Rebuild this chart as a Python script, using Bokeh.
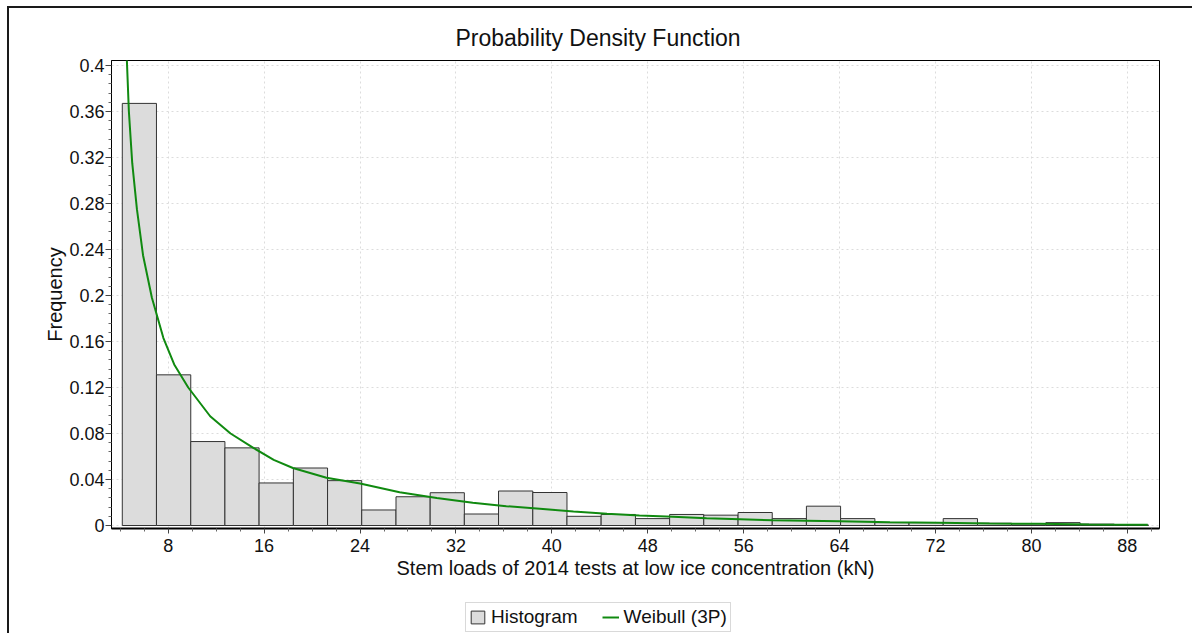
from bokeh.plotting import figure
from bokeh.layouts import column, row
from bokeh.models import Range1d, FixedTicker, Legend, LegendItem, ColumnDataSource, Title, Div
from bokeh.embed import file_html
from bokeh.resources import INLINE

# ---- data ----
bin_left = [4.17, 7.02, 9.88, 12.73, 15.58, 18.44, 21.29, 24.14, 27.00, 29.85,
            32.70, 35.55, 38.41, 41.26, 44.11, 46.97, 49.82, 52.67, 55.53, 58.38,
            61.23, 64.08, 66.94, 69.79, 72.64, 75.50, 78.35, 81.20, 84.06, 86.91]
bin_right = [7.02, 9.88, 12.73, 15.58, 18.44, 21.29, 24.14, 27.00, 29.85, 32.70,
             35.55, 38.41, 41.26, 44.11, 46.97, 49.82, 52.67, 55.53, 58.38, 61.23,
             64.08, 66.94, 69.79, 72.64, 75.50, 78.35, 81.20, 84.06, 86.91, 89.76]
frequency = [0.367, 0.131, 0.073, 0.0675, 0.037, 0.050, 0.039, 0.0135, 0.025, 0.0285,
             0.010, 0.030, 0.0287, 0.008, 0.0096, 0.006, 0.0096, 0.009, 0.0113, 0.006,
             0.0168, 0.006, 0.0025, 0.0025, 0.006, 0.002, 0.0015, 0.0025, 0.0012, 0.0005]

weibull_x = [4.55, 4.72, 5.0, 5.39, 5.9, 6.64, 7.6, 8.5, 9.67, 11.5, 13.2, 15.1, 16.8, 18.4,
             21.2, 24.0, 27.3, 30.4, 33.4, 36.2, 39.0, 41.8, 44.6, 47.3, 50.1, 52.9,
             55.7, 58.4, 64.0, 68.2, 72.3, 76.5, 80.7, 84.8, 89.7]
weibull_y = [0.405, 0.36, 0.315, 0.275, 0.235, 0.198, 0.163, 0.14, 0.12, 0.095, 0.08, 0.0675,
             0.057, 0.050, 0.0415, 0.0365, 0.029, 0.024, 0.0197, 0.0168, 0.0145, 0.0122, 0.0102,
             0.0087, 0.0076, 0.0063, 0.0055, 0.0046, 0.0037, 0.0029, 0.0023, 0.0017, 0.0015,
             0.0009, 0.0006]

x_ticks = [8, 16, 24, 32, 40, 48, 56, 64, 72, 80, 88]
x_minor_ticks = [4, 6, 10, 12, 14, 18, 20, 22, 26, 28, 30, 34, 36, 38, 42, 44, 46, 50, 52, 54,
                 58, 60, 62, 66, 68, 70, 74, 76, 78, 82, 84, 86, 90]
y_ticks = [0, 0.04, 0.08, 0.12, 0.16, 0.2, 0.24, 0.28, 0.32, 0.36, 0.4]
y_tick_labels = ["0", "0.04", "0.08", "0.12", "0.16", "0.2", "0.24", "0.28", "0.32", "0.36", "0.4"]
y_minor_ticks = [0.008, 0.016, 0.024, 0.032, 0.048, 0.056, 0.064, 0.072, 0.088, 0.096, 0.104, 0.112,
                 0.128, 0.136, 0.144, 0.152, 0.168, 0.176, 0.184, 0.192, 0.208, 0.216, 0.224, 0.232,
                 0.248, 0.256, 0.264, 0.272, 0.288, 0.296, 0.304, 0.312, 0.328, 0.336, 0.344, 0.352,
                 0.368, 0.376, 0.384, 0.392]

title_text = "Probability Density Function"
x_label = "Stem loads of 2014 tests at low ice concentration (kN)"
y_label = "Frequency"
series_names = ["Histogram", "Weibull (3P)"]

FONT = "Liberation Sans"
BAR_FILL = "#dcdcdc"
BAR_LINE = "#333333"
CURVE = "#108a10"
EDGE = "#1a1a1a"

# ---------------- main chart ----------------
p = figure(width=1183, height=582, output_backend="svg", toolbar_location=None,
           x_range=Range1d(3.27, 90.68), y_range=Range1d(-0.0026, 0.4043),
           min_border_left=102, min_border_right=33, min_border_top=52, min_border_bottom=62,
           margin=0)
p.title = Title(text=title_text, align="left", offset=344, text_font=FONT,
                text_font_size="23px", text_font_style="normal", text_color="#111111",
                standoff=19)

p.outline_line_color = "black"
p.outline_line_width = 1
p.background_fill_color = "white"
p.border_fill_color = "white"

src = ColumnDataSource(dict(left=bin_left, right=bin_right, top=frequency,
                            bottom=[0] * len(frequency)))
p.quad(left="left", right="right", top="top", bottom="bottom", source=src,
       fill_color=BAR_FILL, line_color=BAR_LINE, line_width=1)
p.line(weibull_x, weibull_y, line_color=CURVE, line_width=2)

p.xaxis.ticker = FixedTicker(ticks=x_ticks, minor_ticks=x_minor_ticks)
p.yaxis.ticker = FixedTicker(ticks=y_ticks, minor_ticks=y_minor_ticks)
p.yaxis.major_label_overrides = {t: l for t, l in zip(y_ticks, y_tick_labels)}

for ax in (p.xaxis[0], p.yaxis[0]):
    ax.major_label_text_font = FONT
    ax.major_label_text_font_size = "18px"
    ax.major_label_text_color = "#111111"
    ax.axis_label_text_font = FONT
    ax.axis_label_text_font_size = "20px"
    ax.axis_label_text_font_style = "normal"
    ax.axis_label_text_color = "#111111"
    ax.major_tick_in = 0
    ax.minor_tick_in = 0
    ax.major_tick_line_color = "#444444"
    ax.minor_tick_line_color = "#666666"
    ax.axis_line_color = "black"

p.xaxis.axis_label = x_label
p.yaxis.axis_label = y_label
p.xaxis.axis_line_width = 2
p.xaxis.major_tick_out = 5
p.xaxis.minor_tick_out = 3
p.xaxis.major_label_standoff = 5
p.xaxis.axis_label_standoff = 2
p.yaxis.major_tick_out = 6
p.yaxis.minor_tick_out = 3
p.yaxis.major_label_standoff = 1
p.yaxis.axis_label_standoff = 0

p.xgrid.grid_line_color = "#dcdcdc"
p.xgrid.grid_line_dash = "2 3"
p.ygrid.grid_line_color = "#dcdcdc"
p.ygrid.grid_line_dash = "2 3"

# ---------------- legend strip (same data, plotted out of view) ----------------
lp = figure(width=1183, height=43, output_backend="svg", toolbar_location=None,
            x_axis_type=None, y_axis_type=None,
            x_range=Range1d(-200, -100), y_range=Range1d(-200, -100),
            min_border=0, min_border_left=0, min_border_right=0,
            min_border_top=0, min_border_bottom=0, margin=0)
lp.outline_line_color = None
lp.background_fill_color = "white"
lp.border_fill_color = "white"
lbars = lp.quad(left="left", right="right", top="top", bottom="bottom", source=src,
                fill_color=BAR_FILL, line_color=BAR_LINE, line_width=1)
lcurve = lp.line(weibull_x, weibull_y, line_color=CURVE, line_width=2)

legend = Legend(items=[LegendItem(label=series_names[0], renderers=[lbars]),
                       LegendItem(label=series_names[1], renderers=[lcurve])],
                orientation="horizontal", location=(354, 1),
                label_text_font=FONT, label_text_font_size="19px", label_text_color="#111111",
                glyph_width=17, glyph_height=16, label_standoff=5, spacing=24,
                padding=3, margin=0, border_line_color="#b4b4b4",
                background_fill_color="white", background_fill_alpha=1)
lp.add_layout(legend, "center")

# ---------------- outer page frame (left and top edges) ----------------
top_edge = Div(text="", width=1185, height=2, margin=0,
               styles={"background-color": EDGE, "overflow": "hidden"})
left_edge = Div(text="", width=2, height=625, margin=0,
                styles={"background-color": EDGE, "overflow": "hidden"})

page = column(top_edge, row(left_edge, column(p, lp, spacing=0, margin=0), spacing=0, margin=0),
              spacing=0, margin=(6, 0, 0, 7))

open("out.html", "w").write(file_html(page, INLINE))
